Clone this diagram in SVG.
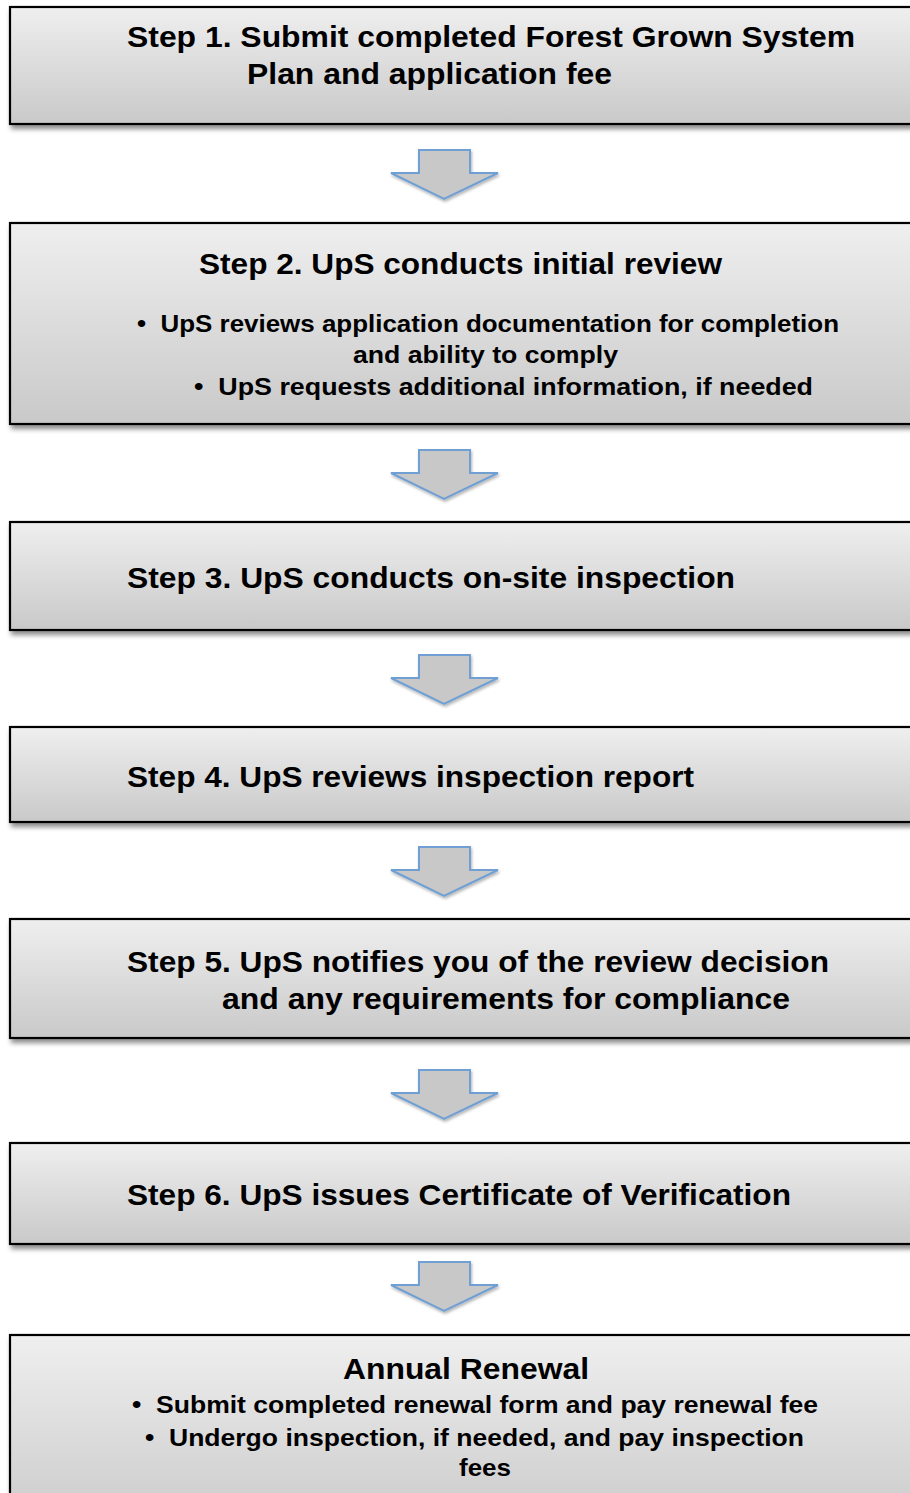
<svg xmlns="http://www.w3.org/2000/svg" width="910" height="1493" viewBox="0 0 910 1493">
<defs>
<linearGradient id="g" x1="0" y1="0" x2="0" y2="1">
<stop offset="0" stop-color="#efefef"/>
<stop offset="1" stop-color="#c9c9c9"/>
</linearGradient>
<filter id="sh" x="-5%" y="-10%" width="115%" height="130%">
<feGaussianBlur in="SourceAlpha" stdDeviation="2.5"/>
<feOffset dx="2" dy="4" result="b"/>
<feComponentTransfer><feFuncA type="linear" slope="0.45"/></feComponentTransfer>
<feMerge><feMergeNode/><feMergeNode in="SourceGraphic"/></feMerge>
</filter>
<filter id="ash" x="-20%" y="-20%" width="140%" height="150%">
<feGaussianBlur in="SourceAlpha" stdDeviation="1.5"/>
<feOffset dx="1" dy="2" result="b"/>
<feComponentTransfer><feFuncA type="linear" slope="0.3"/></feComponentTransfer>
<feMerge><feMergeNode/><feMergeNode in="SourceGraphic"/></feMerge>
</filter>
<path id="arr" d="M-25,0 H26 V23 H54 L0,49 L-53,23 H-25 Z"/>
</defs>
<style>
.box{fill:url(#g);stroke:#000;stroke-width:2.2;filter:url(#sh)}
.t{font-family:"Liberation Sans",Arial,sans-serif;font-weight:bold;fill:#000}
.h{font-size:30px}
.b{font-size:24.5px}
.arrow{fill:#c8c8c8;stroke:#6f9fd3;stroke-width:2;stroke-linejoin:miter;filter:url(#ash)}
</style>
<rect width="910" height="1493" fill="#fff"/>
<g id="connectors">
<use href="#arr" class="arrow" x="444" y="150"/>
<use href="#arr" class="arrow" x="444" y="450"/>
<use href="#arr" class="arrow" x="444" y="655"/>
<use href="#arr" class="arrow" x="444" y="847"/>
<use href="#arr" class="arrow" x="444" y="1070"/>
<use href="#arr" class="arrow" x="444" y="1262"/>
</g>
<g id="step1">
<rect class="box" x="10" y="7" width="910" height="117"/>
<text class="t h" x="127" y="47" textLength="728" lengthAdjust="spacingAndGlyphs">Step 1. Submit completed Forest Grown System</text>
<text class="t h" x="247" y="84" textLength="365" lengthAdjust="spacingAndGlyphs">Plan and application fee</text>
</g>
<g id="step2">
<rect class="box" x="10" y="223" width="910" height="201"/>
<text class="t h" x="199" y="274" textLength="523" lengthAdjust="spacingAndGlyphs">Step 2. UpS conducts initial review</text>
<text class="t b" x="137" y="332" textLength="702" lengthAdjust="spacingAndGlyphs">•&#160; UpS reviews application documentation for completion</text>
<text class="t b" x="353" y="363" textLength="265" lengthAdjust="spacingAndGlyphs">and ability to comply</text>
<text class="t b" x="194" y="395" textLength="619" lengthAdjust="spacingAndGlyphs">•&#160; UpS requests additional information, if needed</text>
</g>
<g id="step3">
<rect class="box" x="10" y="522" width="910" height="108"/>
<text class="t h" x="127" y="588" textLength="608" lengthAdjust="spacingAndGlyphs">Step 3. UpS conducts on-site inspection</text>
</g>
<g id="step4">
<rect class="box" x="10" y="727" width="910" height="95"/>
<text class="t h" x="127" y="787" textLength="567" lengthAdjust="spacingAndGlyphs">Step 4. UpS reviews inspection report</text>
</g>
<g id="step5">
<rect class="box" x="10" y="919" width="910" height="119"/>
<text class="t h" x="127" y="972" textLength="702" lengthAdjust="spacingAndGlyphs">Step 5. UpS notifies you of the review decision</text>
<text class="t h" x="222" y="1009" textLength="568" lengthAdjust="spacingAndGlyphs">and any requirements for compliance</text>
</g>
<g id="step6">
<rect class="box" x="10" y="1143" width="910" height="101"/>
<text class="t h" x="127" y="1205" textLength="664" lengthAdjust="spacingAndGlyphs">Step 6. UpS issues Certificate of Verification</text>
</g>
<g id="renewal">
<rect class="box" x="10" y="1335" width="910" height="200"/>
<text class="t h" x="343" y="1379" textLength="246" lengthAdjust="spacingAndGlyphs">Annual Renewal</text>
<text class="t b" x="132" y="1413" textLength="686" lengthAdjust="spacingAndGlyphs">•&#160; Submit completed renewal form and pay renewal fee</text>
<text class="t b" x="145" y="1446" textLength="659" lengthAdjust="spacingAndGlyphs">•&#160; Undergo inspection, if needed, and pay inspection</text>
<text class="t b" x="459" y="1476" textLength="52" lengthAdjust="spacingAndGlyphs">fees</text>
</g>
</svg>
